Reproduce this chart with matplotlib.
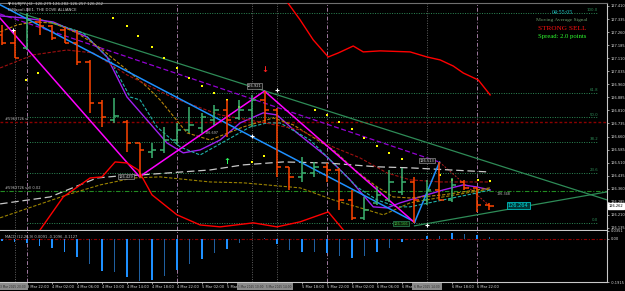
import matplotlib
matplotlib.use("Agg")
import matplotlib.pyplot as plt
from matplotlib.patches import Rectangle

W, H = 625, 291

# 2-hour bars, x = hours after 3 Mar 22:00
bar_h = list(range(-4, 76, 2))
bar_o = [127.243, 127.198, 127.169, 127.318, 127.295, 127.272, 127.198, 127.088, 126.853, 126.755,
         126.744, 126.623, 126.572, 126.583, 126.640, 126.698, 126.709, 126.755, 126.813, 126.767,
         126.813, 126.870, 126.813, 126.486, 126.428, 126.451, 126.486, 126.468, 126.296, 126.193,
         126.279, 126.296, 126.342, 126.399, 126.296, 126.353, 126.296, 126.399, 126.365, 126.267]
bar_hi = [127.301, 127.272, 127.370, 127.341, 127.301, 127.289, 127.272, 127.100, 126.870, 126.881,
          126.755, 126.623, 126.623, 126.715, 126.738, 126.830, 126.795, 126.841, 126.870, 126.870,
          126.898, 126.921, 126.824, 126.486, 126.543, 126.514, 126.508, 126.479, 126.353, 126.313,
          126.370, 126.468, 126.480, 126.428, 126.411, 126.513, 126.422, 126.411, 126.370, 126.279]
bar_lo = [127.186, 127.111, 127.157, 127.243, 127.215, 127.198, 127.071, 126.795, 126.715, 126.738,
          126.572, 126.429, 126.537, 126.566, 126.612, 126.681, 126.681, 126.726, 126.658, 126.755,
          126.715, 126.738, 126.428, 126.353, 126.399, 126.428, 126.399, 126.239, 126.181, 126.181,
          126.267, 126.285, 126.325, 126.166, 126.267, 126.296, 126.285, 126.353, 126.227, 126.239]
bar_c = [127.198, 127.111, 127.330, 127.295, 127.226, 127.198, 127.088, 126.853, 126.772, 126.778,
         126.623, 126.583, 126.583, 126.640, 126.698, 126.726, 126.772, 126.813, 126.755, 126.813,
         126.870, 126.813, 126.486, 126.428, 126.451, 126.486, 126.468, 126.296, 126.193, 126.239,
         126.325, 126.399, 126.399, 126.296, 126.353, 126.296, 126.382, 126.365, 126.267, 126.262]

macd_hist = [-0.010, -0.013, -0.018, -0.031, -0.040, -0.057, -0.079, -0.110, -0.141, -0.145,
             -0.167, -0.185, -0.180, -0.163, -0.136, -0.110, -0.088, -0.062, -0.044, -0.018,
             -0.002, 0.004, -0.022, -0.048, -0.057, -0.057, -0.062, -0.075, -0.084, -0.075,
             -0.057, -0.040, -0.013, -0.004, 0.013, 0.013, 0.026, 0.022, 0.018, 0.009]

# indicator curves (hours, price)
violet_h = [-4.3, -0.6, 4.2, 9.6, 12.8, 16, 19.2, 22.4, 25, 27.7, 30.9, 34.1, 37.8, 40, 43.2, 48,
            51.7, 55.4, 57.6, 59.7, 61.3, 64, 66.6, 69.8, 72, 74.1]
violet_p = [127.353, 127.341, 127.318, 127.232, 127.117, 126.887, 126.755, 126.623, 126.566, 126.583,
            126.640, 126.738, 126.796, 126.784, 126.681, 126.543, 126.411, 126.256, 126.250, 126.279,
            126.296, 126.325, 126.353, 126.382, 126.370, 126.353]
teal_h = [3.7, 9.0, 13.3, 16.5, 18.1, 20.8, 24.5, 27.7, 32, 35.7, 38.4, 40.5, 45.3, 49, 52.8, 56,
          59.2, 61.3, 66.6, 72, 74.1]
teal_p = [127.318, 127.255, 127.100, 126.887, 126.870, 126.715, 126.600, 126.554, 126.640, 126.715,
          126.738, 126.738, 126.640, 126.508, 126.370, 126.296, 126.256, 126.256, 126.296, 126.336, 126.353]
olive_h = [-4.3, -1.6, 1, 4.2, 8, 11.7, 16, 19.2, 21.3, 25.6, 29.3, 34.6, 39.4, 42.6, 49, 52.8,
           56, 58.6, 61.3, 66.6, 74.1]
olive_p = [127.261, 127.301, 127.318, 127.312, 127.255, 127.169, 127.042, 126.945, 126.870, 126.681,
           126.640, 126.715, 126.767, 126.727, 126.583, 126.457, 126.371, 126.313, 126.307, 126.325, 126.365]
darkred_h = [-4.3, 1, 6.4, 10.6, 16, 23.4, 30.9, 37.3, 43.7, 49, 53.3, 57.6, 61.3, 66.1, 74.1]
darkred_p = [127.054, 127.129, 127.157, 127.140, 127.014, 126.882, 126.784, 126.744, 126.698, 126.600,
             126.537, 126.451, 126.411, 126.399, 126.399]
gray_h = [-4.3, 3.7, 11.2, 14.9, 18.1, 25, 29.3, 34.6, 41, 48, 56, 61.3, 73.6]
gray_p = [126.273, 126.313, 126.422, 126.434, 126.439, 126.457, 126.468, 126.497, 126.514, 126.508,
          126.486, 126.480, 126.457]
olive2_h = [-4.3, 6.4, 11.7, 17, 21.3, 29.3, 34.6, 43.7, 49, 54.4, 57, 61.3, 66.6, 74.1]
olive2_p = [126.193, 126.325, 126.382, 126.422, 126.428, 126.399, 126.394, 126.365, 126.296, 126.239,
            126.210, 126.279, 126.313, 126.359]
red_lo_h = [1.3, 2.1, 5.8, 10.1, 12, 14.1, 16, 17.8, 20, 24, 27.7, 30.9, 36.2, 40, 43.7, 48.2, 50.6, 51.7]
red_lo_p = [126.070, 126.124, 126.313, 126.422, 126.428, 126.514, 126.508, 126.468, 126.325, 126.210,
            126.152, 126.141, 126.164, 126.141, 126.170, 126.227, 126.124, 126.037]
red_hi_h = [41, 41.4, 43.7, 45.8, 48.2, 49.8, 52.2, 53.8, 56.5, 61.3, 64, 66.1, 68.2, 69.8, 72.2, 74.1]
red_hi_p = [127.473, 127.444, 127.330, 127.215, 127.117, 127.140, 127.180, 127.146, 127.152, 127.146,
            127.117, 127.100, 127.065, 127.025, 126.985, 126.899]

sar_h = [-0.2, 1.8, 13.8, 16, 17.8, 20, 21.9, 24, 25.9, 28, 29.9, 32, 33.9, 36, 37.9,
         46.1, 48, 49.9, 52, 53.9, 56, 57.9, 60, 66.1, 68, 72.2, 74.1]
sar_p = [126.985, 127.025, 127.341, 127.295, 127.238, 127.174, 127.111, 127.054, 126.996, 126.951,
         126.910, 126.870, 126.830, 126.514, 126.549, 126.813, 126.784, 126.744, 126.704, 126.652,
         126.606, 126.566, 126.531, 126.439, 126.411, 126.411, 126.405]

zigzag_h = [-4.5, 18, 38, 62]
zigzag_p = [127.348, 126.429, 126.921, 126.166]

fib_levels = [127.370, 126.912, 126.770, 126.628, 126.453, 126.166]
fib_names = ["100.0", "61.8", "50.0", "38.2", "23.6", "0.0"]

price_ticks = [127.410, 127.335, 127.260, 127.185, 127.110, 127.035, 126.960, 126.885, 126.810,
               126.735, 126.660, 126.585, 126.510, 126.435, 126.360, 126.285, 126.210, 126.135]
time_ticks = list(range(0, 76, 4))
# labels hidden under the date boxes are left blank or cut short
time_labels = ["3 Mar 22:00", "4 Mar 02:00", "4 Mar 06:00", "4 Mar 10:00", "4 Mar 14:00",
               "4 Mar 18:00", "4 Mar 22:00", "5 Mar 02:00", "5 Mar", "", "",
               "5 Mar 18:00", "5 Mar 22:00", "6 Mar 02:00", "6 Mar 06:00",
               "6 Mar", "", "6 Mar 18:00", "6 Mar 22:00"]
day_lines = [0, 24, 48, 72]
marker_lines = [-2, 36, 40, 64]
marker_labels = ["3 Mar 2025 20:00", "5 Mar 2025 10:00", "5 Mar 2025 14:00", "6 Mar 2025 14:00"]

fig = plt.figure(figsize=(W / 100, H / 100), dpi=100, facecolor="black")
ax = fig.add_axes([0, 1 - 230 / H, 607 / W, 227 / H], facecolor="black")
ax2 = fig.add_axes([0, 1 - 282 / H, 607 / W, 51 / H], facecolor="black", sharex=ax)

ax.set_xlim(-4.32, 92.8)
ax.set_ylim(126.123, 127.427)
ax2.set_ylim(-0.189, 0.035)

for a in (ax, ax2):
    for s in ("left", "top"):
        a.spines[s].set_visible(False)
    for s in ("right", "bottom"):
        a.spines[s].set_color("#c8c8c8")
        a.spines[s].set_linewidth(0.8)
    for x in day_lines:
        a.axvline(x, color="#a07aa0", lw=0.7, ls=(0, (4, 2, 1, 2)), zorder=1)
    for x in marker_lines:
        a.axvline(x, color="#606060", lw=0.7, ls=(0, (1, 1.5)), zorder=1)
ax.spines["top"].set_visible(True)
ax.spines["top"].set_color("#707070")

# horizontal levels
for lvl, name in zip(fib_levels, fib_names):
    ax.plot([0, 91.4], [lvl, lvl], color="#2e8b57", lw=0.7, ls=(0, (1, 1.5)), zorder=1)
    ax.text(91.4, lvl + 0.004, name, color="#2e8b57", fontsize=2.8, ha="right", va="bottom")
ax.axhline(126.744, color="#8b0000", lw=1.0, ls=(0, (2, 1.5)), zorder=1)
ax.text(-3.6, 126.750, "#5963726 sl", color="#c0c0c0", fontsize=2.6, va="bottom")
ax.axhline(126.348, color="#228b22", lw=0.8, ls=(0, (4, 1.5, 1, 1.5)), zorder=1)
ax.text(-3.6, 126.354, "#5963726 sell 0.02", color="#c0c0c0", fontsize=2.6, va="bottom")

# trend lines
ax.plot([-4.32, 62], [127.417, 126.170], color="#1e90ff", lw=1.1, zorder=3)
ax.plot([-1.12, 92.8], [127.370, 126.296], color="#2e8b57", lw=0.9, zorder=2)
ax.plot([62, 92.8], [126.147, 126.342], color="#2e8b57", lw=0.9, zorder=2)
ax.plot([-4.32, 66], [127.364, 126.513], color="#9400d3", lw=0.9, ls=(0, (4, 2)), zorder=2)
ax.plot([66, 74], [126.513, 126.262], color="#b22222", lw=0.7, ls=(0, (2, 1.5)), zorder=2)
ax.plot(zigzag_h, zigzag_p, color="#ff00ff", lw=1.1, zorder=3)
ax.plot([62, 66], [126.166, 126.513], color="#1e90ff", lw=1.1, zorder=3)

# indicator curves
ax.plot(violet_h, violet_p, color="#a020f0", lw=1.0, zorder=2)
ax.plot(teal_h, teal_p, color="#20b2aa", lw=0.8, ls=(0, (3, 1.5)), zorder=2)
ax.plot(olive_h, olive_p, color="#b8860b", lw=0.8, ls=(0, (3, 1.5)), zorder=2)
ax.plot(darkred_h, darkred_p, color="#a01010", lw=0.8, ls=(0, (3, 1.5)), zorder=2)
ax.plot(gray_h, gray_p, color="#c8c8c8", lw=0.9, ls=(0, (6, 3)), zorder=2)
ax.plot(olive2_h, olive2_p, color="#9a8200", lw=0.8, ls=(0, (3, 1.5)), zorder=2)
ax.plot(red_lo_h, red_lo_p, color="#ff0000", lw=1.0, zorder=3)
ax.plot(red_hi_h, red_hi_p, color="#ff0000", lw=1.0, zorder=3)
ax.scatter(sar_h, sar_p, s=1.6, marker="s", color="#ffff00", lw=0, zorder=4)

# OHLC bars
for h, o, hi, lo, c in zip(bar_h, bar_o, bar_hi, bar_lo, bar_c):
    col = "#3cb371" if c >= o else "#ff4500"
    ax.plot([h, h], [lo, hi], color=col, lw=1.1, zorder=5, solid_capstyle="butt")
    ax.plot([h - 0.65, h], [o, o], color=col, lw=1.1, zorder=5, solid_capstyle="butt")
    ax.plot([h, h + 0.65], [c, c], color=col, lw=1.1, zorder=5, solid_capstyle="butt")

# markers
ax.text(38.1, 127.043, "↓", color="#ff2020", fontsize=6, fontweight="bold", ha="center", va="center", zorder=6)
ax.text(32, 126.514, "↑", color="#30ff60", fontsize=6, fontweight="bold", ha="center", va="center", zorder=6)
ax.plot([-2.2, 36, 40, 64], [127.272, 126.664, 126.928, 126.152], ls="none", marker="+",
        ms=3, mew=0.8, color="white", zorder=6)

box = dict(boxstyle="square,pad=0.15", fc="#101010", ec="#b0b0b0", lw=0.4)
ax.text(36.4, 126.95, "126.921", color="#d0d0d0", fontsize=2.6, ha="center", va="center", bbox=box, zorder=7)
ax.text(15.9, 126.428, "126.429", color="#d0d0d0", fontsize=2.6, ha="center", va="center", bbox=box, zorder=7)
ax.text(64, 126.52, "126.513", color="#d0d0d0", fontsize=2.6, ha="center", va="center", bbox=box, zorder=7)
ax.text(59.8, 126.158, "126.166", color="#40c040", fontsize=2.6, ha="center", va="center",
        bbox=dict(boxstyle="square,pad=0.15", fc="#0a200a", ec="#2e8b57", lw=0.5), zorder=7)
ax.text(78.6, 126.262, "126.264", color="#00e0e0", fontsize=3.6, ha="center", va="center",
        bbox=dict(boxstyle="square,pad=0.2", fc="#003838", ec="#00c0c0", lw=0.6), zorder=7)
ax.text(29.5, 126.68, "126.697", color="#c0c0c0", fontsize=2.4, ha="center", va="center", zorder=7)
ax.text(76.2, 126.33, "126.348", color="#c0c0c0", fontsize=2.4, ha="center", va="center", zorder=7)

# axes ticks
ax.yaxis.tick_right()
ax.set_yticks(price_ticks)
ax.set_yticklabels([f"{p:.3f}" for p in price_ticks])
ax.tick_params(axis="y", colors="#d8d8d8", labelsize=2.6, length=1.5, width=0.5, pad=1)
ax.tick_params(axis="x", bottom=False, labelbottom=False)
ax.text(1.003, (126.262 - 126.123) / (127.427 - 126.123), "126.262", transform=ax.transAxes,
        fontsize=2.6, color="black", va="center", ha="left",
        bbox=dict(boxstyle="square,pad=0.2", fc="white", ec="white"))

# MACD
hist_cols = ["#1f5f9f" if (h % 4 == 2 and h >= 10) else "#1e90ff" for h in bar_h]
ax2.bar(bar_h, macd_hist, width=0.3, color=hist_cols, zorder=3)
ax2.axhline(0, color="#8b0000", lw=0.8, ls=(0, (3, 1.5, 1, 1.5)), zorder=2)
ax2.text(0.008, 0.93, "MACD (12,26,9) 0.0091 -0.1096 -0.1127", transform=ax2.transAxes,
         color="#c0c0c0", fontsize=2.6, va="top")
ax2.yaxis.tick_right()
ax2.set_yticks([0.035, 0.0, -0.189])
ax2.set_yticklabels(["0.0351", "0.00", "-0.1915"])
ax2.tick_params(axis="y", colors="#d8d8d8", labelsize=2.6, length=1.5, width=0.5, pad=1)
ax2.set_xticks(time_ticks)
ax2.set_xticklabels(time_labels, ha="left")
ax2.tick_params(axis="x", colors="#d8d8d8", labelsize=2.6, length=1.5, width=0.5, pad=1)

# date boxes on the time scale
box_left = [-2, 237, 265, 412]
box_width = [30, 28, 28, 30]
for px, bw, lab in zip(box_left, box_width, marker_labels):
    fig.patches.append(Rectangle((px / W, 1 - 290 / H), bw / W, 7 / H, transform=fig.transFigure,
                                 fc="#8a8a8a", ec="none", zorder=10))
    fig.text((px + bw / 2) / W, 1 - 286.5 / H, lab, color="#303030", fontsize=2.1, ha="center",
             va="center", zorder=11)

# header texts
fig.text(8 / W, 1 - 4.5 / H, "▼ EURJPY,H2  126.279 126.282 126.257 126.262", color="#d0d0d0",
         fontsize=2.8, va="center")
fig.text(8 / W, 1 - 9.5 / H, "DiNapoli-DE1. THE DOVE ALLIANCE", color="#d0d0d0", fontsize=2.8, va="center")
fig.text(562 / W, 1 - 13 / H, "04:55:05", color="#20c0c0", fontsize=4.3, family="Liberation Serif",
         ha="center", va="center")
fig.text(562 / W, 1 - 20 / H, "Moving Average Signal", color="#6a9a6a", fontsize=3.9,
         family="Liberation Serif", ha="center", va="center")
fig.text(562 / W, 1 - 28.5 / H, "STRONG SELL", color="#ff1010", fontsize=5.2, family="Liberation Serif",
         ha="center", va="center")
fig.text(562 / W, 1 - 36.5 / H, "Spread: 2.0 points", color="#30ff30", fontsize=4.8,
         family="Liberation Serif", ha="center", va="center")

fig.savefig("out.png", dpi=100, facecolor="black")
